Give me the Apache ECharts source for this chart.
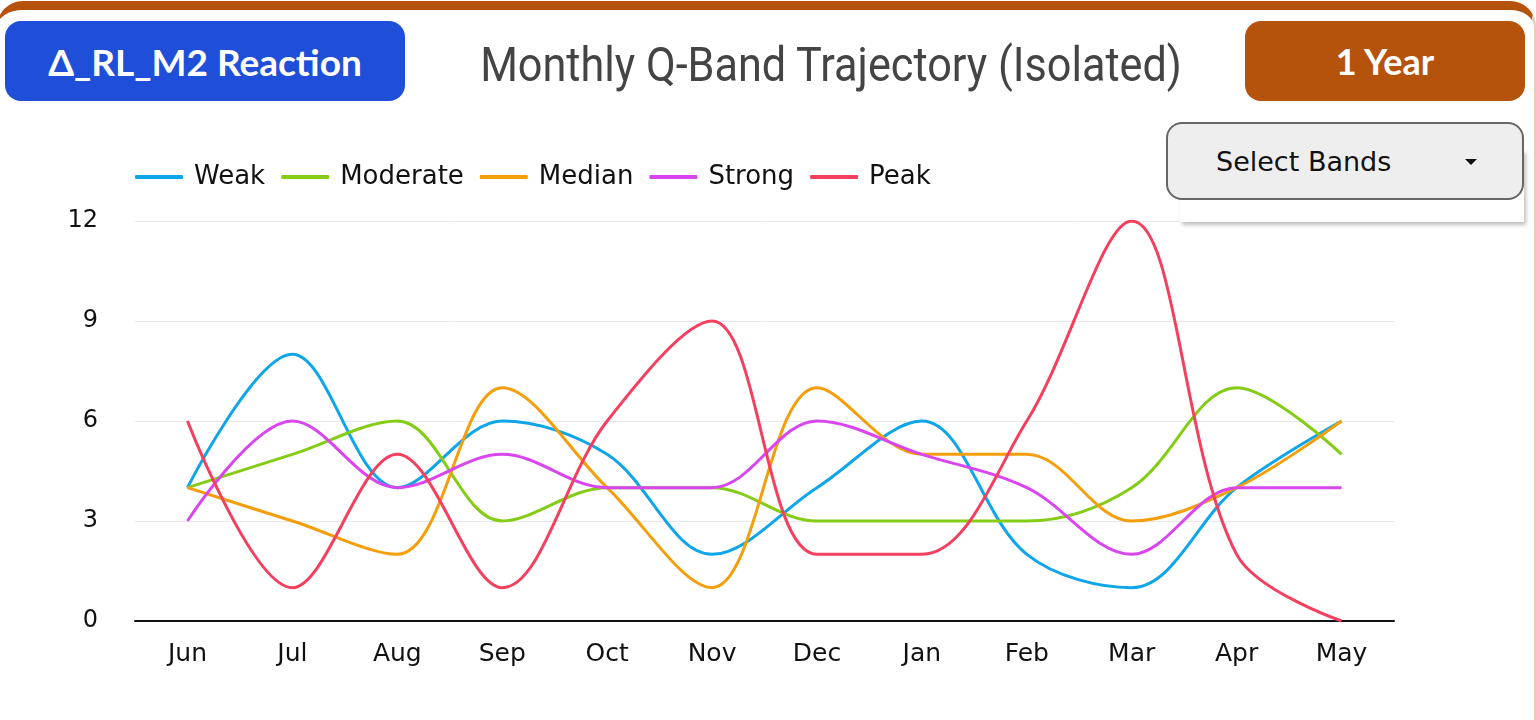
<!DOCTYPE html>
<html>
<head>
<meta charset="utf-8">
<script src="https://cdn.jsdelivr.net/npm/echarts@6/dist/echarts.min.js"></script>
<style>
  html, body { margin: 0; padding: 0; width: 1536px; height: 720px; overflow: hidden; background: #fff; }
  .card {
    position: absolute; left: -3px; top: 1px; width: 1539px; height: 760px;
    border-top: 9px solid #b5520b; border-right: 2px solid #e8cdb8;
    border-radius: 26px; box-sizing: border-box; background: #fff;
  }
  .btn {
    position: absolute; top: 21px; height: 80px; border-radius: 16px;
    color: #fff; font-family: Lato, "Noto Sans", sans-serif; font-weight: 700;
    display: flex; align-items: center; justify-content: center;
  }
  .btn-left { left: 5px; width: 400px; background: #1f4fd8; font-size: 37px; }
  .btn-right { left: 1245px; width: 280px; background: #b5520b; font-size: 36px; }
  .title {
    position: absolute; left: 831px; top: 36px; white-space: nowrap;
    font-family: Roboto, sans-serif; font-size: 48px; color: #444;
    transform: translateX(-50%) scaleX(0.9); transform-origin: center;
  }
  .panel {
    position: absolute; left: 1180px; top: 150px; width: 344px; height: 72px;
    background: #fff; box-shadow: 2px 3px 4px rgba(0,0,0,0.25);
  }
  .select {
    position: absolute; left: 1166px; top: 122px; width: 358px; height: 78px;
    box-sizing: border-box; border: 2px solid #666; border-radius: 16px;
    background: #eeeeee; font-family: "DejaVu Sans", sans-serif; font-size: 27px; color: #111;
  }
  .select span { position: absolute; left: 48px; top: 22px; }
  .caret {
    position: absolute; left: 1465px; top: 159px; width: 0; height: 0;
    border-left: 6px solid transparent; border-right: 6px solid transparent; border-top: 6px solid #111;
  }
  #main { position: absolute; left: 0; top: 0; width: 1536px; height: 720px; }
</style>
</head>
<body>
<div class="card"></div>
<div id="main"></div>
<div class="btn btn-left">Δ_RL_M2 Reaction</div>
<div class="title">Monthly Q-Band Trajectory (Isolated)</div>
<div class="btn btn-right">1 Year</div>
<div class="panel"></div>
<div class="select"><span>Select Bands</span></div>
<div class="caret"></div>
<script>
  // months and band values
  const months = ["Jun", "Jul", "Aug", "Sep", "Oct", "Nov", "Dec", "Jan", "Feb", "Mar", "Apr", "May"];
  const weak = [4, 8, 4, 6, 5, 2, 4, 6, 2, 1, 4, 6];
  const moderate = [4, 5, 6, 3, 4, 4, 3, 3, 3, 4, 7, 5];
  const median = [4, 3, 2, 7, 4, 1, 7, 5, 5, 3, 4, 6];
  const strong = [3, 6, 4, 5, 4, 4, 6, 5, 4, 2, 4, 4];
  const peak = [6, 1, 5, 1, 6, 9, 2, 2, 6, 12, 2, 0];

  const bandNames = ["Weak", "Moderate", "Median", "Strong", "Peak"];
  const bandData = [weak, moderate, median, strong, peak];
  const bandColors = ["#0ea5e9", "#84cc16", "#f59e0b", "#d946ef", "#f43f5e"];

  let myChart = echarts.init(document.getElementById("main"));
  const font = "'DejaVu Sans', sans-serif";

  let option = {
    color: bandColors,
    legend: {
      left: 130,
      top: 159,
      icon: "roundRect",
      itemWidth: 48,
      itemHeight: 4,
      itemGap: 16,
      textStyle: { fontFamily: font, fontSize: 26, color: "#111", padding: [0, 0, 0, 6] },
      data: bandNames
    },
    grid: { left: 135, right: 142, top: 221, bottom: 99 },
    xAxis: {
      type: "category",
      data: months,
      boundaryGap: true,
      axisLine: { lineStyle: { color: "#111", width: 2 } },
      axisTick: { show: false },
      axisLabel: { fontFamily: font, fontSize: 25, color: "#111", margin: 21 }
    },
    yAxis: {
      type: "value",
      min: 0,
      max: 12,
      interval: 3,
      axisLine: { show: false },
      axisTick: { show: false },
      axisLabel: { fontFamily: font, fontSize: 24, color: "#111", margin: 37 },
      splitLine: { lineStyle: { color: "#e8e8e8", width: 1 } }
    },
    series: bandNames.map((name, i) => ({
      name: name,
      type: "line",
      data: bandData[i],
      smooth: 0.35,
      showSymbol: false,
      lineStyle: { width: 3 }
    }))
  };
  myChart.setOption(option);
</script>
</body>
</html>
